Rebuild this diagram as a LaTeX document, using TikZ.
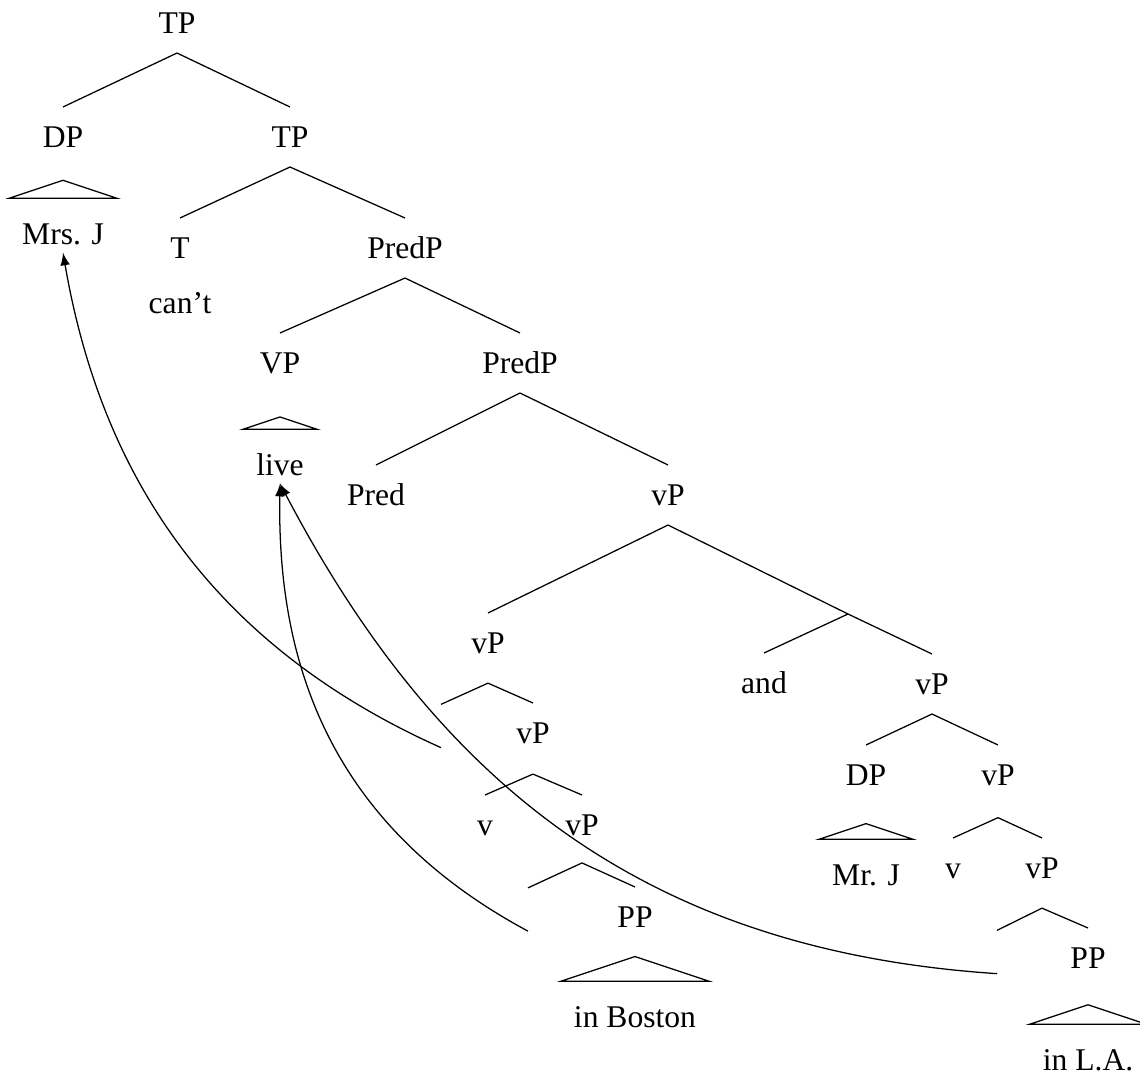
\documentclass[tikz,border=0pt]{standalone}
\usepackage{fontspec}
\setmainfont{Liberation Serif}
\usetikzlibrary{calc}

\newcommand{\roofof}[1]{%
  \draw let \p1=([yshift=1.8pt]#1.north west), \p2=([yshift=1.8pt]#1.north east) in
    (\p1) -- ({(\x1+\x2)/2},{\y1+(\x2-\x1)/6}) -- (\p2) -- cycle;}

\begin{document}
\begin{tikzpicture}[x=0.3165pt, y=-0.3165pt, thin, lab/.style = {inner xsep=4pt, inner ysep=6pt, text height=6.6pt, text depth=0pt},
        trace/.style = {inner sep=0pt, minimum height=13.3pt, minimum width=0pt}]
        \useasboundingbox (0,0) rectangle (1140,1074);

        \node[lab] (1) at (177,23) {TP};
        \node[lab] (2) at (63,137) {DP};
        \node[lab] (3) at (290,137) {TP};
        \node[lab] (4) at (63,234) {Mrs. J};
        \node[lab] (5) at (180,248) {T};
        \node[lab] (6) at (180,303) {can't};
        \node[lab] (7) at (405,248) {PredP};
        \node[lab] (8) at (280,363) {VP};
        \node[lab] (9) at (520,363) {PredP};
        \node[lab] (10) at (280,465) {live};
        \node[lab] (11) at (376,495) {Pred};
        \node[lab] (12) at (668,495) {vP};
        \node[lab] (13) at (488,643) {vP};
        \coordinate (14) at (848,614);
        \node[lab] (15) at (764,683) {and};
        \node[lab] (16) at (932,684) {vP};
        \node[trace] (17) at (441,726) {};
        \node[lab] (18) at (533,733) {vP};
        \node[lab] (19) at (485,825) {v};
        \node[lab] (20) at (582,825) {vP};
        \node[trace] (21) at (528,909.5) {};
        \node[lab] (22) at (635,917) {PP};
        \node[lab] (23) at (635,1017) {in Boston};
        \node[lab] (24) at (866,775) {DP};
        \node[lab] (25) at (866,875) {Mr. J};
        \node[lab] (26) at (998,775) {vP};
        \node[lab] (27) at (953,868) {v};
        \node[lab] (28) at (1042,868) {vP};
        \node[trace] (29) at (997,952) {};
        \node[lab] (30) at (1088,958) {PP};
        \node[lab] (31) at (1088,1060) {in L.A.};

        \draw (1.south) -- (2.north);
        \draw (1.south) -- (3.north);
        \roofof{4}

        \draw (3.south) -- (5.north);
        \draw (3.south) -- (7.north);

        \draw (7.south) -- (8.north);
        \draw (7.south) -- (9.north);
        \roofof{10}

        \draw (9.south) -- (11.north);
        \draw (9.south) -- (12.north);

        \draw (12.south) -- (13.north);
        \draw (12.south) -- (14);
        \draw (14) -- (15.north);
        \draw (14) -- (16.north);

        \draw ([yshift=-3.2pt]13.south) -- (17.north);
        \draw ([yshift=-3.2pt]13.south) -- (18.north);

        \draw ([yshift=-3.5pt]18.south) -- (19.north);
        \draw ([yshift=-3.5pt]18.south) -- (20.north);

        \draw ([yshift=-2.5pt]20.south) -- (21.north);
        \draw ([yshift=-2.5pt]20.south) -- (22.north);
        \roofof{23}

        \draw (16.south) -- (24.north);
        \draw (16.south) -- (26.north);
        \roofof{25}

        \draw ([yshift=-4pt]26.south) -- (27.north);
        \draw ([yshift=-4pt]26.south) -- (28.north);

        \draw ([yshift=-3.2pt]28.south) -- (29.north);
        \draw ([yshift=-3.2pt]28.south) -- (30.north);
        \roofof{31}

        % movement arrows
        \draw[-latex] (17.south) .. controls +(-235,-105) and +(37,216) .. ([yshift=3.6pt]4.south);
        \draw[-latex] (21.south) .. controls +(-205,-110) and +(-3,170) .. ([yshift=3.6pt]10.south);
        \draw[-latex] (29.south) .. controls +(-347,-23) and +(160,305) .. ([yshift=3.6pt]10.south);
    \end{tikzpicture}
\end{document}
